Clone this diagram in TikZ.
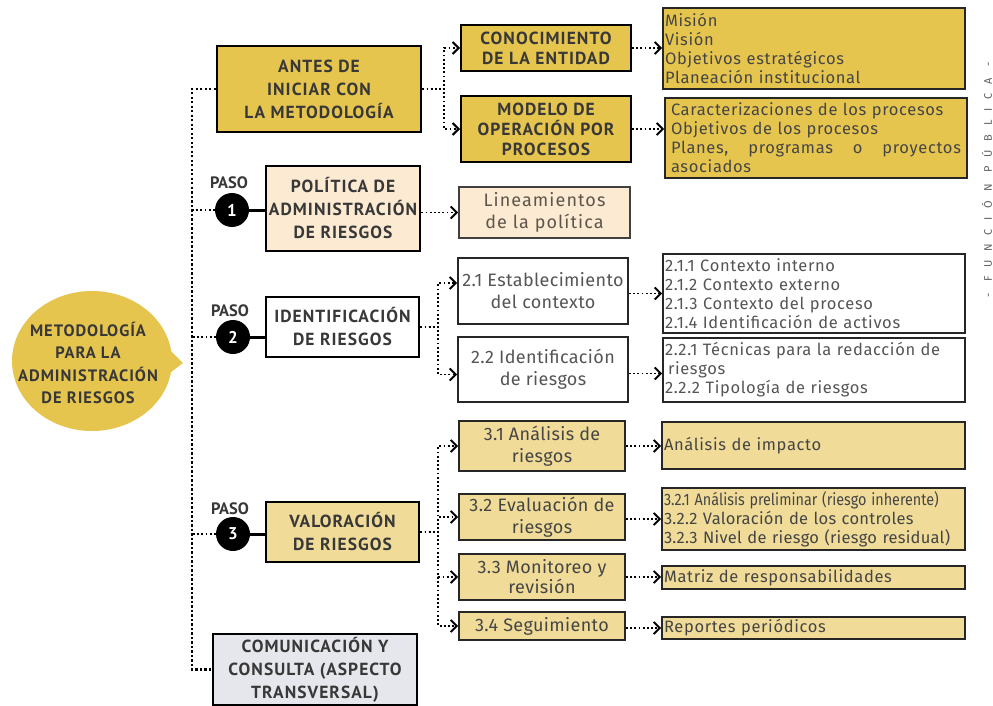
\documentclass[tikz,border=0pt]{standalone}
\usepackage{fontspec}
\usepackage{graphicx}
\setmainfont{Fira Sans}
\newfontfamily\hfont{PT Sans}
\usetikzlibrary{arrows.meta,calc}
\definecolor{gold}{HTML}{E6C54F}
\definecolor{lgold}{HTML}{F0DC98}
\definecolor{peach}{HTML}{FCEBD2}
\definecolor{lgray}{HTML}{E6E7EC}
\definecolor{tdark}{HTML}{383838}
\definecolor{tbody}{HTML}{454545}
\definecolor{tlight}{HTML}{555555}
\definecolor{tbrown}{HTML}{5E554B}
\tikzset{
  mainbox/.style={draw=black, line width=2.6pt, inner sep=0pt, align=center, text=tdark,
    font=\hfont\bfseries\fontsize{17.5}{23}\selectfont\addfontfeature{LetterSpace=6}},
  subbox/.style={draw=black!85, line width=1.8pt, inner sep=0pt, align=center, text=tbody,
    font=\fontsize{18}{22}\selectfont\addfontfeature{LetterSpace=2}},
  listbox/.style={draw=black!85, line width=1.8pt, inner xsep=2pt, inner ysep=0pt, align=left, text=tbody,
    font=\fontsize{16.5}{19}\selectfont\addfontfeature{LetterSpace=4}},
  stepcirc/.style={circle, fill=black, inner sep=0pt, minimum size=34pt, text=white,
    font=\hfont\bfseries\fontsize{17}{17}\selectfont},
  pasolbl/.style={text=tdark, inner sep=0pt, font=\hfont\bfseries\fontsize{16.5}{17}\selectfont},
  trunkline/.style={line width=2.4pt, dash pattern=on 2.2pt off 2.3pt},
  dotline/.style={line width=1.9pt, dash pattern=on 1.8pt off 2.4pt},
  dotarr/.style={dotline, -{Straight Barb[length=6pt,width=12pt,line width=2pt]}},
  solidlink/.style={line width=3pt}
}
\begin{document}
\begin{tikzpicture}[x=1pt,y=-1pt]
\useasboundingbox (0,0) rectangle (993,706);
\fill[white] (0,0) rectangle (993,706);

% speech bubble
\fill[gold] (92,361) ellipse [x radius=80, y radius=70];
\fill[gold] (164,344) -- (183,363) -- (162,379) -- cycle;
\node[align=center, text=tdark, inner sep=0pt, font=\hfont\bfseries\fontsize{16.5}{22.5}\selectfont\addfontfeature{LetterSpace=6}] (bubble) at (88,363)
  {METODOLOGÍA\\PARA LA\\ADMINISTRACIÓN\\DE RIESGOS};

% level 1 boxes
\node[mainbox, fill=gold, minimum width=204, minimum height=86] (antes) at (319,89)
  {ANTES DE\\INICIAR CON\\LA METODOLOGÍA};
\node[mainbox, fill=peach, minimum width=154, minimum height=85] (politica) at (343,208.5)
  {POLÍTICA DE\\ADMINISTRACIÓN\\DE RIESGOS};
\node[mainbox, fill=white, minimum width=153, minimum height=60] (ident) at (342.5,327)
  {IDENTIFICACIÓN\\DE RIESGOS};
\node[mainbox, fill=lgold, minimum width=153, minimum height=60] (valor) at (342.5,532)
  {VALORACIÓN\\DE RIESGOS};
\node[mainbox, fill=lgray, minimum width=204, minimum height=71] (comm) at (315,669.5)
  {COMUNICACIÓN Y\\CONSULTA (ASPECTO\\TRANSVERSAL)};

% step circles
\node[stepcirc] (c1) at (232,210) {1};
\node[stepcirc] (c2) at (233,337) {2};
\node[stepcirc] (c3) at (233,534) {3};
\node[pasolbl] (p1) at (229,183) {PASO};
\node[pasolbl] (p2) at (230,311) {PASO};
\node[pasolbl] (p3) at (230,509) {PASO};

% level 2 boxes
\node[mainbox, fill=gold, line width=2pt, minimum width=170, minimum height=46] (conoc) at (546,48)
  {CONOCIMIENTO\\[-3pt]DE LA ENTIDAD};
\node[mainbox, fill=gold, line width=2pt, minimum width=170, minimum height=66] (modelo) at (546,129)
  {MODELO DE\\[-3pt]OPERACIÓN POR\\[-3pt]PROCESOS};
\node[subbox, fill=peach, text=tbrown, draw=black!75, minimum width=171, minimum height=51,
  font=\fontsize{18}{22}\selectfont\addfontfeature{LetterSpace=6}] (lineam) at (544.5,212.5)
  {Lineamientos\\de la política};
\node[subbox, fill=white, text=tlight, minimum width=170, minimum height=66] (e21) at (543,291)
  {2.1 Establecimiento\\del contexto};
\node[subbox, fill=white, text=tlight, minimum width=170, minimum height=65] (e22) at (543,369.5)
  {2.2 Identificación\\de riesgos};
\node[subbox, fill=lgold, minimum width=166, minimum height=50] (e31) at (542,446)
  {3.1 Análisis de\\riesgos};
\node[subbox, fill=lgold, minimum width=166, minimum height=46] (e32) at (542,517)
  {3.2 Evaluación de\\riesgos};
\node[subbox, fill=lgold, minimum width=166, minimum height=46, font=\fontsize{18}{20}\selectfont\addfontfeature{LetterSpace=2}] (e33) at (542,577)
  {3.3 Monitoreo y\\revisión};
\node[subbox, fill=lgold, minimum width=166, minimum height=28] (e34) at (542,626)
  {3.4 Seguimiento};

% level 3 list boxes
\node[listbox, fill=gold, minimum width=302, minimum height=81, text width=298] (mision) at (814,48.5)
  {Misión\\Visión\\Objetivos estratégicos\\Planeación institucional};
\node[listbox, fill=gold, minimum width=302, minimum height=80, text width=290] (caract) at (816,138)
  {Caracterizaciones de los procesos\\Objetivos de los procesos\\\makebox[290pt][s]{Planes,\hfill programas\hfill o\hfill proyectos}\\asociados};
\node[listbox, fill=white, text=tlight, minimum width=302, minimum height=79, text width=298] (l21) at (814,293.5)
  {2.1.1 Contexto interno\\2.1.2 Contexto externo\\2.1.3 Contexto del proceso\\2.1.4 Identificación de activos};
\node[listbox, fill=white, text=tlight, minimum width=302, minimum height=64, text width=298] (l22) at (814,370)
  {2.2.1 Técnicas para la redacción de\\\hspace*{3pt}riesgos\\2.2.2 Tipología de riesgos};
\node[listbox, fill=lgold, minimum width=303, minimum height=47, text width=299] (r31) at (813.5,445.5)
  {Análisis de impacto};
\node[listbox, fill=lgold, minimum width=303, minimum height=62, text width=299,
  font=\fontsize{16.5}{19}\selectfont\addfontfeature{LetterSpace=1.5}] (r32) at (813.5,519)
  {\scalebox{0.87}[1]{\addfontfeature{LetterSpace=0}3.2.1 Análisis preliminar (riesgo inherente)}\\3.2.2 Valoración de los controles\\3.2.3 Nivel de riesgo (riesgo residual)};
\node[listbox, fill=lgold, minimum width=303, minimum height=23, text width=299] (r33) at (813.5,577.5)
  {Matriz de responsabilidades};
\node[listbox, fill=lgold, minimum width=303, minimum height=22, text width=299] (r34) at (813.5,628)
  {Reportes periódicos};

% side label
\node[rotate=90, text=black!62, inner sep=0pt, font=\fontsize{11}{11}\selectfont\addfontfeature{LetterSpace=80}] (fp) at (987,180)
  {- FUNCIÓN PÚBLICA -};

% trunk
\coordinate (trunk) at (192,0);
\draw[trunkline] (antes.west) -- (antes.west -| trunk) -- (comm.west -| trunk) -- (comm.west);
\draw[dotline] (c1.west) -- (c1.west -| trunk);
\draw[dotline] (c2.west) -- (c2.west -| trunk);
\draw[dotline] (c3.west) -- (c3.west -| trunk);

% circle to box
\draw[solidlink] (c1.east) -- (c1.east -| politica.west);
\draw[solidlink] (c2.east) -- (c2.east -| ident.west);
\draw[solidlink] (c3.east) -- (c3.east -| valor.west);

% branches
\draw[dotarr] (antes.east) -- ++(22,0) |- (conoc.west);
\draw[dotarr] (antes.east) -- ++(22,0) |- (modelo.west);
\draw[dotarr] (politica.east |- lineam.west) -- (lineam.west);
\draw[dotarr] (ident.east) -- ++(18,0) |- ($(e21.west)+(0,-8)$);
\draw[dotarr] (ident.east) -- ++(18,0) |- ($(e22.west)+(0,5)$);
\draw[dotarr] (valor.east) -- ++(18,0) |- (e31.west);
\draw[dotarr] (valor.east) -- ++(18,0) |- (e32.west);
\draw[dotarr] (valor.east) -- ++(18,0) |- (e33.west);
\draw[dotarr] (valor.east) -- ++(18,0) |- (e34.west);

\draw[dotarr] (conoc.east) -- (conoc.east -| mision.west);
\draw[dotarr] (modelo.east) -- (modelo.east -| caract.west);
\draw[dotarr] (e21.east |- l21.west) -- (l21.west);
\draw[dotarr] ($(e22.east)+(0,4)$) -- ($(e22.east -| l22.west)+(0,4)$);
\draw[dotarr] (e31.east) -- (e31.east -| r31.west);
\draw[dotarr] (e32.east |- r32.west) -- (r32.west);
\draw[dotarr] (e33.east) -- (e33.east -| r33.west);
\draw[dotarr] (e34.east |- r34.west) -- (r34.west);
\end{tikzpicture}
\end{document}
